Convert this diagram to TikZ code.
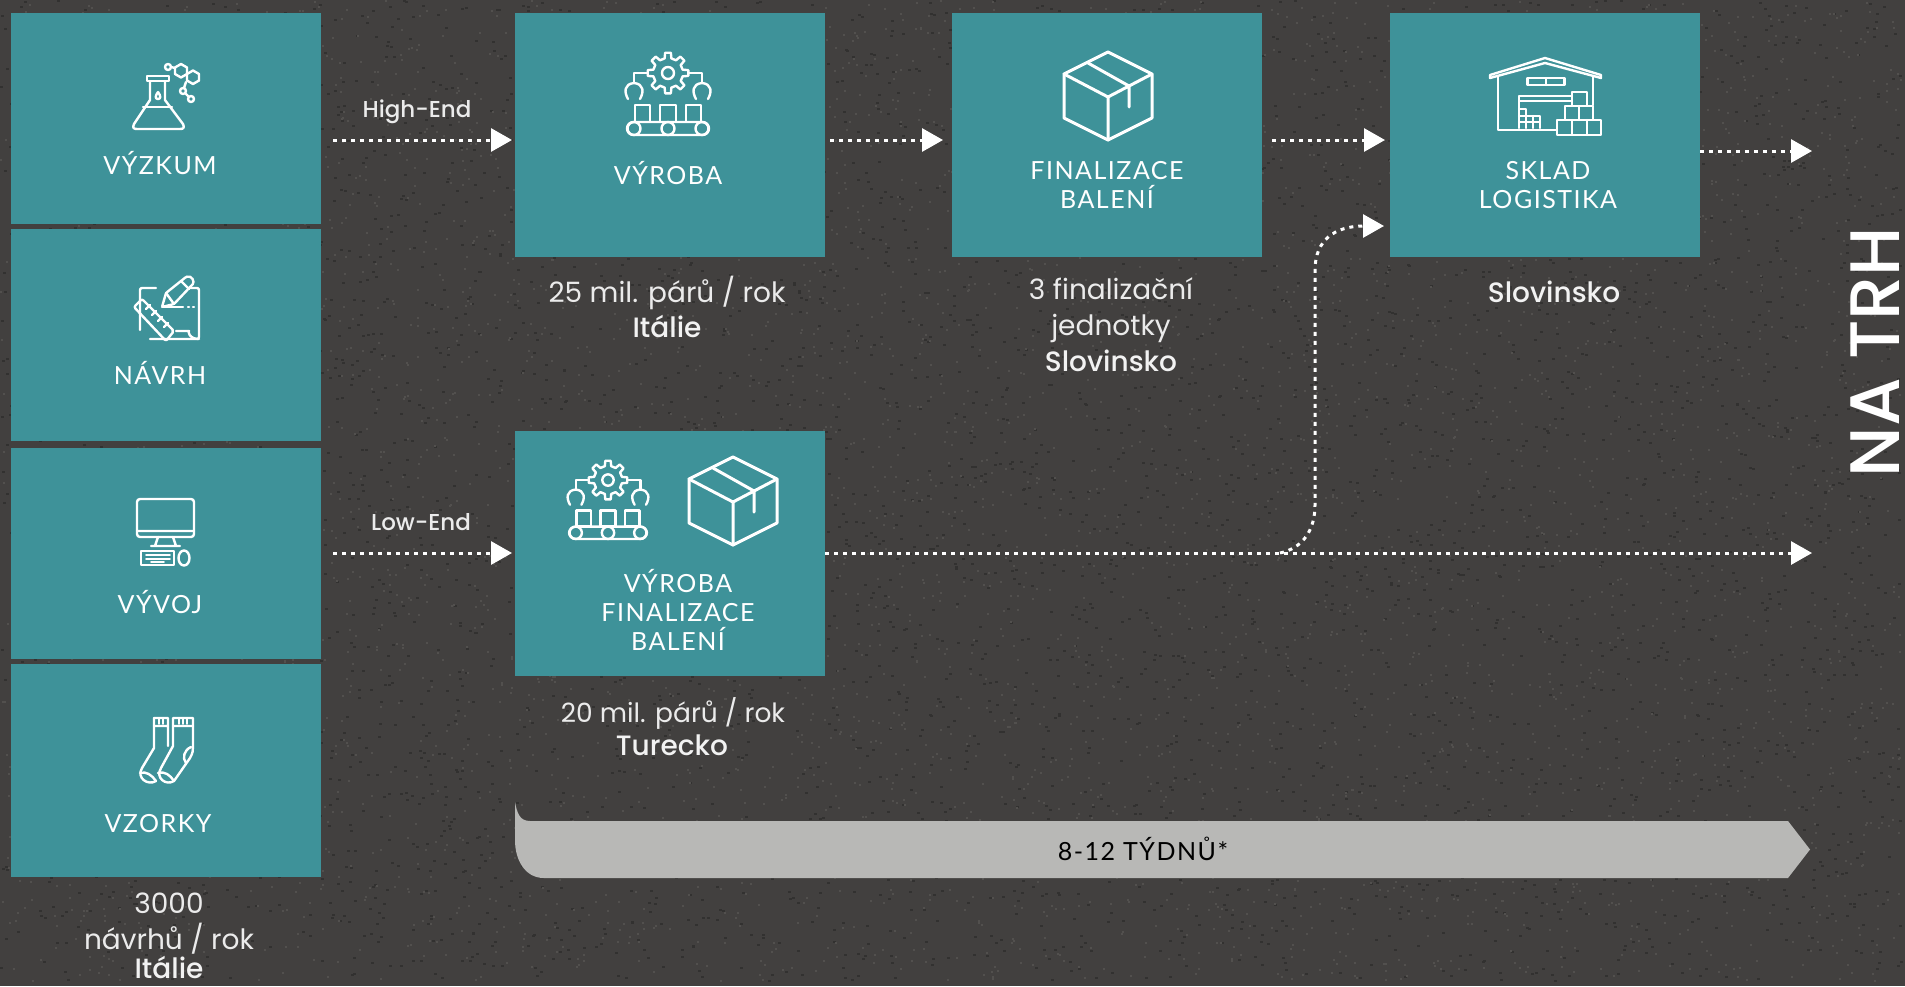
\documentclass[tikz,border=0pt]{standalone}
\usepackage{fontspec}
\usetikzlibrary{arrows.meta}
\setmainfont{Poppins}
\newfontfamily\lblfont[LetterSpace=6]{Lato}
\newfontfamily\medfont{Poppins Medium}
\definecolor{asphalt}{RGB}{66,64,63}
\definecolor{specdark}{RGB}{50,49,48}
\definecolor{speclight}{RGB}{82,80,78}
\definecolor{teal}{RGB}{62,146,153}
\definecolor{band}{RGB}{184,184,182}
\tikzset{
  tealbox/.style={fill=teal,draw=none,inner sep=0,anchor=north west},
  lbl/.style={text=white,align=center,inner sep=0,font=\fontsize{25}{29}\selectfont\lblfont},
  body/.style={text=white!92!black,align=center,inner sep=0,font=\fontsize{28}{36}\selectfont},
  bodym/.style={text=white!95!black,align=center,inner sep=0,font=\fontsize{28}{36}\selectfont\medfont},
  flowlabel/.style={text=white!92!black,inner sep=0,font=\fontsize{23}{27}\selectfont\medfont},
  flow/.style={draw=white,line width=3,dash pattern=on 4 off 5,-{Triangle[length=21,width=23,fill=white]}},
  icon/.style={draw=white,line width=2.4,line join=round,line cap=round},
  pics/box/.style={code={
    \draw[icon,line width=3] (0,-44)--(44,-22)--(44,22)--(0,44)--(-44,22)--(-44,-22)--cycle;
    \draw[icon,line width=3] (-44,-22)--(0,1)--(44,-22) (0,1)--(0,44) (-20,-33)--(21,-10)--(21,11);
  }},
  pics/factory/.style={code={
    \begin{scope}[shift={(0,-21)}]
    \draw[icon] (-13:15) \foreach \a in {0,45,...,315}{ -- ({\a-13}:15) -- ({\a-8}:20.5) -- ({\a+8}:20.5) -- ({\a+13}:15)} -- cycle;
    \draw[icon] (0,0) circle (6);
    \end{scope}
    \draw[icon] (-21,-21)--(-34,-21)--(-34,-11) (21,-21)--(34,-21)--(34,-11);
    \draw[icon] (-28,5) .. controls (-24,-2) and (-24,-10) .. (-34,-11) .. controls (-44,-10) and (-44,-2) .. (-40,5);
    \draw[icon] (28,5) .. controls (24,-2) and (24,-10) .. (34,-11) .. controls (44,-10) and (44,-2) .. (40,5);
    \draw[icon] (-33,28) rectangle (-18,11) (-8,28) rectangle (8,11) (18,28) rectangle (33,11);
    \draw[icon,rounded corners=6.5] (-41,28) rectangle (41,41);
    \draw[icon] (-34,34.5) circle (6.5) (0,34.5) circle (6.5) (34,34.5) circle (6.5);
  }},
}
\begin{document}
\begin{tikzpicture}[x=1pt,y=-1pt]
\useasboundingbox (0,0) rectangle (1905,986);
\fill[asphalt] (0,0) rectangle (1905,986);
\pgfmathsetseed{4217}
\foreach \i in {1,...,5000}{ \pgfmathsetmacro{\px}{rnd*1900}\pgfmathsetmacro{\py}{rnd*980}\fill[specdark] (\px,\py) rectangle ++(3,2); }
\foreach \i in {1,...,5000}{ \pgfmathsetmacro{\px}{rnd*1900}\pgfmathsetmacro{\py}{rnd*980}\fill[speclight] (\px,\py) rectangle ++(2,2); }
% left column
\node[tealbox,minimum width=310,minimum height=211] (vyzkum) at (11,13) {};
\node[tealbox,minimum width=310,minimum height=212] (navrh) at (11,229) {};
\node[tealbox,minimum width=310,minimum height=211] (vyvoj) at (11,448) {};
\node[tealbox,minimum width=310,minimum height=213] (vzorky) at (11,664) {};
% process boxes
\node[tealbox,minimum width=310,minimum height=244] (vyroba) at (515,13) {};
\node[tealbox,minimum width=310,minimum height=244] (final) at (952,13) {};
\node[tealbox,minimum width=310,minimum height=244] (sklad) at (1390,13) {};
\node[tealbox,minimum width=310,minimum height=245] (low) at (515,431) {};
% band
\path[fill=band] (515,802) .. controls (517,812) and (519,821) .. (530,821) -- (1788,821) -- (1810,849.5) -- (1788,878) -- (544,878) .. controls (525,878) and (515,860) .. (515,840) -- cycle;
% labels
\node[lbl] (t1) at (160,163) {VÝZKUM};
\node[lbl] (t2) at (160,373) {NÁVRH};
\node[lbl] (t3) at (160,602) {VÝVOJ};
\node[lbl] (t4) at (158,824) {VZORKY};
\node[lbl] (t5) at (668,173) {VÝROBA};
\node[lbl] (t6) at (1107,185) {FINALIZACE\\BALENÍ};
\node[lbl] (t7) at (1548,185) {SKLAD\\LOGISTIKA};
\node[lbl] (t8) at (678,610) {VÝROBA\\FINALIZACE\\BALENÍ};
\node[lbl,text=black] (t9) at (1143,849) {8-12 TÝDNŮ*};
\node[body] (c1) at (169,924) {3000\\návrhů / rok};
\node[bodym] (c1b) at (169,967) {Itálie};
\node[body] (c2) at (667,293) {25 mil. párů / rok};
\node[bodym] (c2b) at (667,326) {Itálie};
\node[body] (c3) at (1111,310) {3 finalizační\\jednotky};
\node[bodym] (c3b) at (1111,361) {Slovinsko};
\node[bodym] (c4) at (1554,292) {Slovinsko};
\node[body,font=\fontsize{26.5}{36}\selectfont] (c5) at (673,713) {20 mil. párů / rok};
\node[bodym] (c5b) at (672,745) {Turecko};
\node[flowlabel] (hi) at (417,112) {High-End};
\node[flowlabel] (lo) at (421,522) {Low-End};
\node[text=white,inner sep=0,rotate=90,anchor=base,font=\fontsize{70}{70}\selectfont\medfont] (trh) at (1899,352) {NA TRH};
% connectors
\coordinate (hs) at (333,140);
\coordinate (ls) at (333,553);
\coordinate (m1) at (1812,151);
\coordinate (m2) at (1812,553);
\coordinate (jn) at (1280,553);
\coordinate (sk) at (1384,226);
\draw[flow,shorten >=3] (hs) -- (vyroba.west |- hs);
\draw[flow,shorten >=9,shorten <=5] (vyroba.east |- hs) -- (final.west |- hs);
\draw[flow,shorten >=5,shorten <=10] (final.east |- hs) -- (sklad.west |- hs);
\draw[flow] (sklad.east |- m1) -- (m1);
\draw[flow,shorten >=3] (ls) -- (low.west |- ls);
\draw[flow] (low.east |- m2) -- (m2);
\draw[flow] (jn) .. controls (1303,548) and (1315,530) .. (1315,505) -- (1315,270) .. controls (1315,240) and (1335,226) .. (sk);
% icons
 % flask
 \draw[icon] (147,76) rectangle (169,81);
 \draw[icon] (150,81) -- (150,100) -- (134,124) .. controls (132,128) and (134,129) .. (137,129) -- (180,129) .. controls (183,129) and (185,128) .. (183,124) -- (165,100) -- (165,81);
 \draw[icon] (143,107) -- (172,107);
 \draw[icon] (158,92) .. controls (155,96) and (155,99) .. (158,99) .. controls (161,99) and (161,96) .. (158,92);
 \draw[icon] (181,64)--(187,67.5)--(187,74)--(181,77.5)--(175,74)--(175,67.5)--cycle;
 \draw[icon] (187,74)--(193,70.5)--(199,74)--(199,80.5)--(193,84)--(187,80.5)--cycle;
 \draw[icon] (168,67) circle (3) (171,67)--(175,68) (183,91) circle (3) (186,82)--(184,88) (191,99) circle (3) (185,93)--(189,97);
 % pen, ruler
 \draw[icon,rounded corners=2] (156,288) -- (140,288) -- (140,330) (150,339) -- (199,339) -- (199,288) -- (190,288);
 \draw[icon] (199,339) .. controls (188,339) and (188,330) .. (189,331) -- (176,331);
 \draw[icon,rounded corners=2] (134,307) -- (142,299) -- (174,331) -- (166,341) -- cycle;
 \draw[icon] (146,309)--(150,305) (152,315)--(156,311) (158,321)--(162,317) (164,327)--(168,323);
 \draw[icon,rounded corners=1] (162,307) -- (166,293) -- (186,277) .. controls (192,275) and (195,282) .. (192,285) -- (174,304) -- cycle;
 \draw[icon] (181,281)--(189,289) (166,293)--(174,304);
 \draw[icon] (162,307)--(183,307) (188,307)--(189,307) (193,307)--(194,307);
 % computer
 \draw[icon,rounded corners=3] (137,499) rectangle (194,537);
 \draw[icon] (137,531)--(194,531) (158,537)--(155,546) (173,537)--(176,546) (151,546)--(180,546);
 \draw[icon] (141,551) rectangle (174,565);
 \draw[icon,line width=1.6] (146,555)--(170,555) (146,559)--(170,559) (151,562)--(164,562);
 \draw[icon] (184,558) ellipse (5.5 and 7.5);
 % socks
 \draw[icon] (154,718)--(154,748)--(142,768) .. controls (136,778) and (148,786) .. (156,781);
 \draw[icon] (154,718)--(168,718) (168,718)--(168,746) (154,726)--(168,726) (140,773) .. controls (146,771) and (152,775) .. (156,781);
 \draw[icon] (173,718)--(193,718)--(193,746) (173,718)--(173,746)--(161,768) .. controls (155,778) and (166,786) .. (174,781) -- (190,758) .. controls (193,753) and (193,750) .. (193,746);
 \draw[icon] (173,726)--(193,726) (158,773) .. controls (165,771) and (170,775) .. (174,781) (191,747) .. controls (184,750) and (182,758) .. (186,763);
 \draw[icon,line width=1.5] (159,718)--(159,724) (163,718)--(163,724) (179,718)--(179,724) (183,718)--(183,724) (187,718)--(187,724);
 % warehouse
 \draw[icon] (1490,78)--(1490,75)--(1545,58)--(1601,75)--(1601,78)--(1545,63)--cycle;
 \draw[icon] (1498,76)--(1498,130)--(1556,130) (1593,76)--(1593,105);
 \draw[icon] (1527.5,78) rectangle (1564.5,85) (1546,78)--(1546,85);
 \draw[icon] (1519,96) rectangle (1572,101) (1519,101)--(1519,128);
 \draw[icon] (1519,109)--(1526,109)--(1526,128) (1519,116)--(1540,116)--(1540,128) (1519,122)--(1540,122) (1533,116)--(1533,128);
 \draw[icon] (1572,92) rectangle (1587,106) (1565,106) rectangle (1593,120) (1579,106)--(1579,120);
 \draw[icon] (1557,120) rectangle (1601,135) (1572,120)--(1572,135) (1587,120)--(1587,135);
\pic at (668,94) {factory};
\pic[scale=.95] at (608,500) {factory};
\pic at (1108,96) {box};
\pic at (733,501) {box};
\end{tikzpicture}
\end{document}
